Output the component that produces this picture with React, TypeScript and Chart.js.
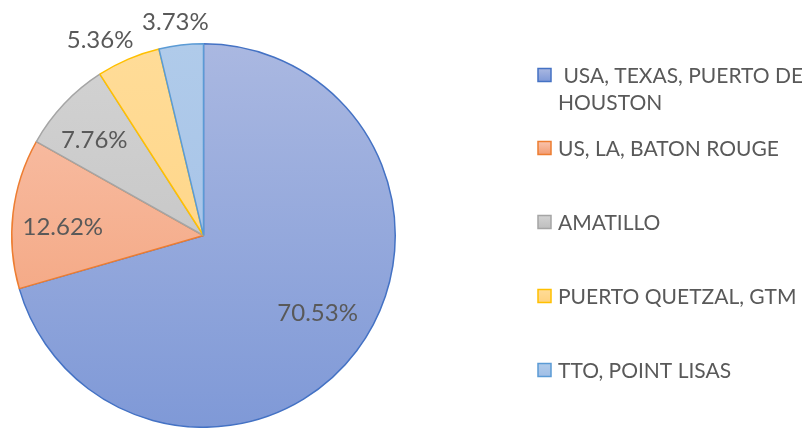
import React, { useEffect, useRef } from "react";
import { Chart, registerables } from "chart.js";

Chart.register(...registerables);

const categories = [
  " USA, TEXAS, PUERTO DE HOUSTON",
  "US, LA, BATON ROUGE",
  "AMATILLO",
  "PUERTO QUETZAL, GTM",
  "TTO, POINT LISAS",
];
const shares = [70.53, 12.62, 7.76, 5.36, 3.73];
const legendLines = [
  [" USA, TEXAS, PUERTO DE", "HOUSTON"],
  ["US, LA, BATON ROUGE"],
  ["AMATILLO"],
  ["PUERTO QUETZAL, GTM"],
  ["TTO, POINT LISAS"],
];
const borderColors = ["#4472C4", "#ED7D31", "#A5A5A5", "#FFC000", "#5B9BD5"];
const fillTop = ["#AAB8E1", "#F9C4AE", "#D3D3D3", "#FFDC98", "#B0CBEA"];
const fillBottom = ["#7F99D7", "#F29C72", "#BEBEBE", "#FFD27E", "#A0BEE6"];
const labelRadius = [0.72, 0.735, 0.755, 1.15, 1.12];
const labelAngleShift = [-2.7, -3.2, -2.3, -4.9, -0.8];

const FONT = "Lato, 'Open Sans', sans-serif";
const TEXT_COLOR = "#595959";

export default function App() {
  const ref = useRef<HTMLCanvasElement | null>(null);

  useEffect(() => {
    document.body.style.margin = "0";
    const canvas = ref.current;
    if (!canvas) return;

    const labelPlugin = {
      id: "sliceLabels",
      afterDatasetsDraw(chart: any) {
        const ctx = chart.ctx;
        const meta = chart.getDatasetMeta(0);
        ctx.save();
        ctx.font = `24px ${FONT}`;
        ctx.fillStyle = TEXT_COLOR;
        ctx.textAlign = "center";
        ctx.textBaseline = "middle";
        meta.data.forEach((arc: any, i: number) => {
          const p = arc.getProps(["x", "y", "startAngle", "endAngle", "outerRadius"], true);
          const mid = (p.startAngle + p.endAngle) / 2 + (labelAngleShift[i] * Math.PI) / 180;
          const r = p.outerRadius * labelRadius[i];
          ctx.fillText(
            shares[i].toFixed(2) + "%",
            p.x + Math.cos(mid) * r,
            p.y + Math.sin(mid) * r
          );
        });
        ctx.restore();
      },
    };

    const legendPlugin = {
      id: "sideLegend",
      afterDraw(chart: any) {
        const ctx = chart.ctx;
        const markerX = 538;
        const textX = 558;
        const size = 13;
        const itemCenters = [75, 148, 222, 296, 370];
        const lineGap = 27;
        ctx.save();
        ctx.font = `21px ${FONT}`;
        ctx.textAlign = "left";
        ctx.textBaseline = "middle";
        legendLines.forEach((lines, i) => {
          const cy = itemCenters[i];
          const g = ctx.createLinearGradient(0, cy - size / 2, 0, cy + size / 2);
          g.addColorStop(0, fillTop[i]);
          g.addColorStop(1, fillBottom[i]);
          ctx.fillStyle = g;
          ctx.fillRect(markerX, cy - size / 2, size, size);
          ctx.strokeStyle = borderColors[i];
          ctx.lineWidth = 1.5;
          ctx.strokeRect(markerX, cy - size / 2, size, size);
          ctx.fillStyle = TEXT_COLOR;
          lines.forEach((line, j) => {
            ctx.fillText(line, textX, cy + j * lineGap + 1);
          });
        });
        ctx.restore();
      },
    };

    const gradientFill = (context: any) => {
      const chart = context.chart;
      const area = chart.chartArea;
      const i = context.dataIndex ?? 0;
      if (!area) return fillTop[i];
      const g = chart.ctx.createLinearGradient(0, area.top, 0, area.bottom);
      g.addColorStop(0, fillTop[i]);
      g.addColorStop(1, fillBottom[i]);
      return g;
    };

    const chart = new Chart(canvas, {
      type: "pie",
      data: {
        labels: categories,
        datasets: [
          {
            data: shares,
            backgroundColor: gradientFill,
            borderColor: borderColors,
            borderWidth: 1.5,
          },
        ],
      },
      options: {
        responsive: false,
        animation: false,
        layout: { padding: { left: 11, right: 406, top: 43, bottom: 0 } },
        plugins: {
          legend: { display: false },
          tooltip: { enabled: false },
        },
      },
      plugins: [labelPlugin, legendPlugin],
    });

    return () => chart.destroy();
  }, []);

  return (
    <div style={{ position: "relative", width: 802, height: 428, background: "#fff" }}>
      <canvas ref={ref} width={802} height={428} style={{ display: "block" }} />
    </div>
  );
}
